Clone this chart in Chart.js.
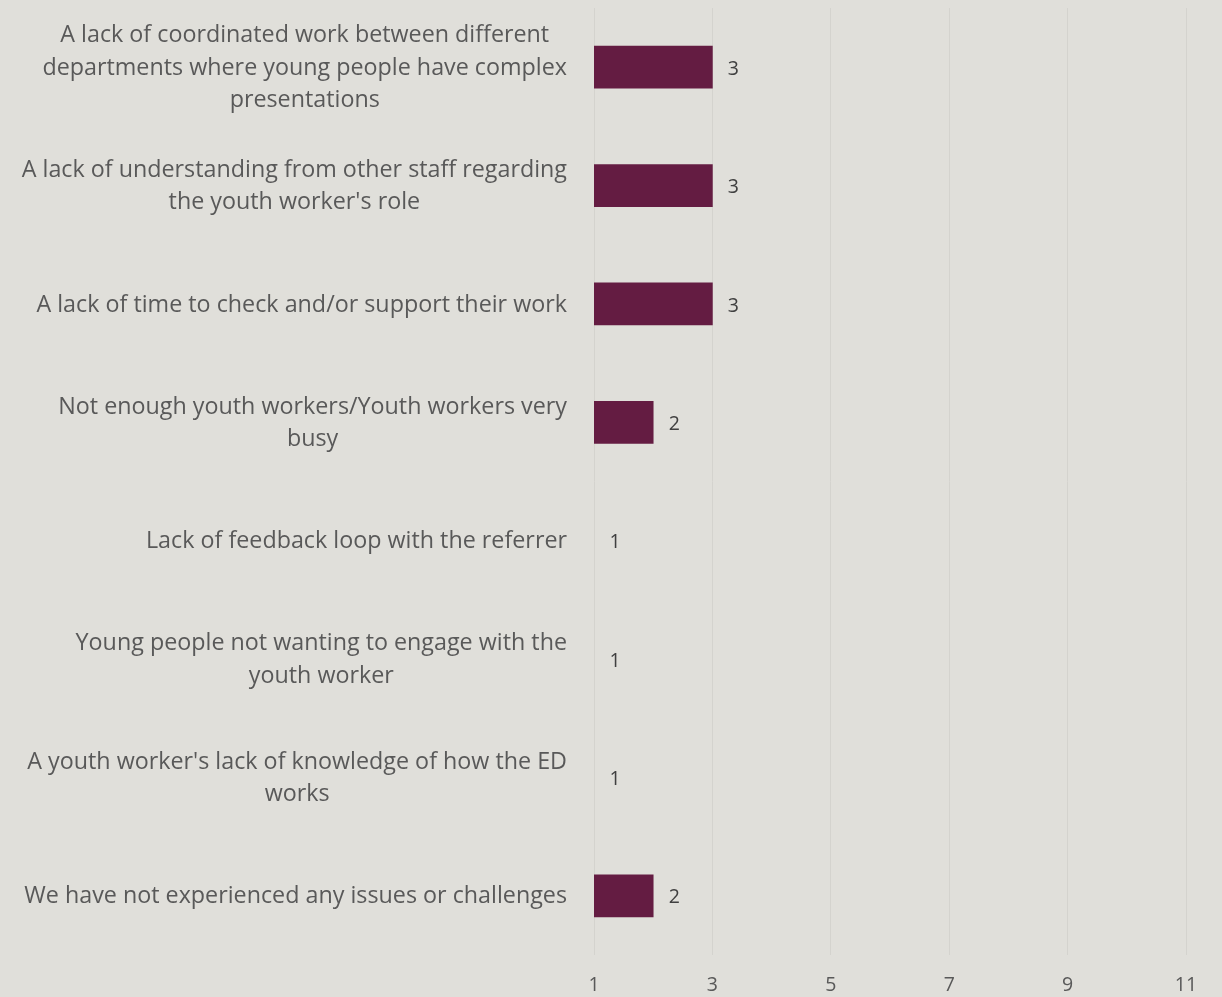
<!DOCTYPE html>
<html>
<head>
<meta charset="utf-8">
<script src="https://cdn.jsdelivr.net/npm/chart.js@4/dist/chart.umd.min.js"></script>
<style>
  html, body { margin: 0; padding: 0; background: #E0DFDA; }
  #wrap { width: 1222px; height: 997px; position: relative; }
</style>
</head>
<body>
<div id="wrap"><canvas id="chart" width="1222" height="997"></canvas></div>
<script>
// Reported issues / challenges (multi-line labels as wrapped text)
const categories = [
  ["A lack of coordinated work between different", "departments where young people have complex", "presentations"],
  ["A lack of understanding from other staff regarding", "the youth worker's role"],
  ["A lack of time to check and/or support their work"],
  ["Not enough youth workers/Youth workers very", "busy"],
  ["Lack of feedback loop with the referrer"],
  ["Young people not wanting to engage with the", "youth worker"],
  ["A youth worker's lack of knowledge of how the ED", "works"],
  ["We have not experienced any issues or challenges"]
];
const responses = [3, 3, 3, 2, 1, 1, 1, 2];
const xTicks = [1, 3, 5, 7, 9, 11];
const X_MIN = 1;
const X_MAX = 11;

const FONT = "'Open Sans', Lato, sans-serif";
const LABEL_SIZE = 23.3;
const NUM_SIZE = 19.5;
const LABEL_RIGHT = 567;
const LINE_HEIGHT = 32.5;

// Draws the wrapped category labels beside each bar, lines centred within a right-aligned block
const categoryLabels = {
  id: 'categoryLabels',
  afterDraw(chart) {
    const ctx = chart.ctx;
    const yScale = chart.scales.y;
    ctx.save();
    ctx.font = `${LABEL_SIZE}px ${FONT}`;
    ctx.fillStyle = '#595959';
    ctx.textAlign = 'center';
    ctx.textBaseline = 'middle';
    categories.forEach((lines, i) => {
      const yc = yScale.getPixelForTick(i) + 1;
      const widest = Math.max(...lines.map(l => ctx.measureText(l).width));
      const xc = LABEL_RIGHT - widest / 2;
      const y0 = yc - (lines.length - 1) * LINE_HEIGHT / 2;
      lines.forEach((l, j) => ctx.fillText(l, xc, y0 + j * LINE_HEIGHT));
    });
    ctx.restore();
  }
};

// Value labels just past the end of each bar
const valueLabels = {
  id: 'valueLabels',
  afterDatasetsDraw(chart) {
    const ctx = chart.ctx;
    const meta = chart.getDatasetMeta(0);
    ctx.save();
    ctx.font = `${NUM_SIZE}px ${FONT}`;
    ctx.fillStyle = '#404040';
    ctx.textAlign = 'center';
    ctx.textBaseline = 'middle';
    meta.data.forEach((bar, i) => {
      ctx.fillText(String(responses[i]), bar.x + 21, bar.y + 2);
    });
    ctx.restore();
  }
};

new Chart(document.getElementById('chart'), {
  type: 'bar',
  data: {
    labels: categories.map(c => c.join(' ')),
    datasets: [{
      data: responses,
      // bars sitting on the axis minimum have no length, so leave them unpainted
      backgroundColor: ctx => (responses[ctx.dataIndex] <= X_MIN ? 'rgba(0,0,0,0)' : '#641C42'),
      borderWidth: 0,
      barThickness: 42
    }]
  },
  options: {
    indexAxis: 'y',
    responsive: false,
    animation: false,
    layout: { padding: { top: 8, right: 36, left: 0, bottom: 0 } },
    plugins: { legend: { display: false }, tooltip: { enabled: false } },
    scales: {
      x: {
        min: X_MIN,
        max: X_MAX,
        afterBuildTicks(scale) { scale.ticks = xTicks.map(v => ({ value: v })); },
        afterFit(scale) { scale.height = 42; },
        grid: { color: '#D4D3CE', lineWidth: 1, drawTicks: false },
        border: { display: false },
        ticks: {
          padding: 19,
          color: '#595959',
          font: { family: FONT, size: NUM_SIZE }
        }
      },
      y: {
        afterFit(scale) { scale.width = 594; },
        grid: { display: false },
        border: { display: false },
        ticks: { display: false }
      }
    }
  },
  plugins: [categoryLabels, valueLabels]
});
</script>
</body>
</html>
